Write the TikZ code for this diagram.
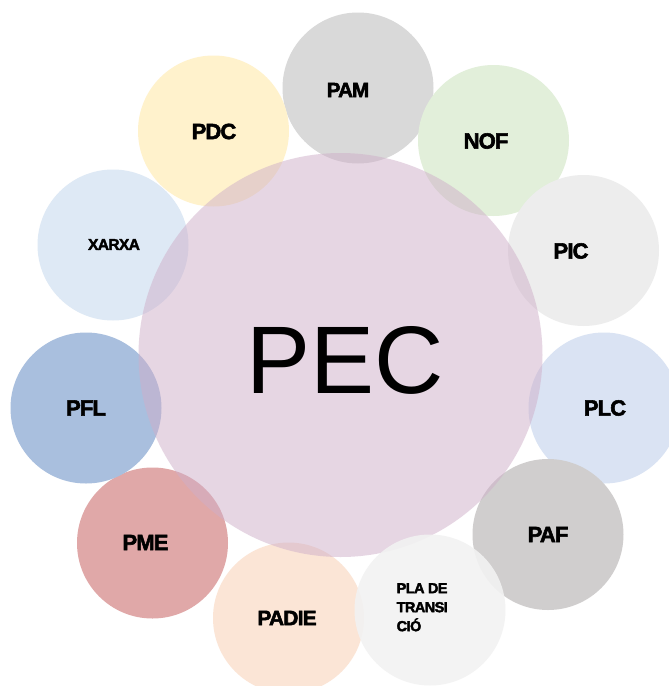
\documentclass[tikz,border=0pt]{standalone}
\usepackage{fontspec}
\setmainfont{Liberation Sans}
\newfontfamily\lblfont{Liberation Sans Bold}[FakeBold=2.5,LetterSpace=-4]
\definecolor{cPEC}{RGB}{207,175,201}
\definecolor{cPAM}{RGB}{217,217,217}
\definecolor{cNOF}{RGB}{226,239,218}
\definecolor{cPIC}{RGB}{237,237,237}
\definecolor{cPLC}{RGB}{218,227,243}
\definecolor{cPAF}{RGB}{208,206,206}
\definecolor{cPLA}{RGB}{242,242,242}
\definecolor{cPADIE}{RGB}{251,229,214}
\definecolor{cPME}{RGB}{224,168,168}
\definecolor{cPFL}{RGB}{169,191,222}
\definecolor{cXARXA}{RGB}{222,233,245}
\definecolor{cPDC}{RGB}{255,242,204}
\tikzset{
  small/.style={circle, minimum size=151pt, inner sep=0pt, draw=none},
  lbl/.style={font=\lblfont\fontsize{22}{24}\selectfont, text=black, inner sep=0pt},
  lblsm/.style={font=\lblfont\fontsize{14.5}{19}\selectfont, text=black, inner sep=0pt, align=left}
}
\begin{document}
\begin{tikzpicture}[x=1pt,y=-1pt]
\clip (0,0) rectangle (669,686);
\fill[white] (0,0) rectangle (669,686);
% small circles
\node[small, fill=cPAM]   (pam)   at (358,88) {};
\node[small, fill=cNOF]   (nof)   at (493.5,140.5) {};
\node[small, fill=cPIC]   (pic)   at (583.5,250.5) {};
\node[small, fill=cPLC]   (plc)   at (604,408) {};
\node[small, fill=cPAF]   (paf)   at (548,534.5) {};
\node[small, fill=cPADIE] (padie) at (288.5,618) {};
\node[small, fill=cPME]   (pme)   at (152.5,543) {};
\node[small, fill=cPFL]   (pfl)   at (86,408) {};
\node[small, fill=cXARXA] (xarxa) at (113,245) {};
\node[small, fill=cPDC]   (pdc)   at (213.5,131) {};
% central circle
\node[circle, minimum size=404pt, inner sep=0pt, fill=cPEC, fill opacity=0.5] (pec) at (340.5,355) {};
% PLA on top
\node[small, fill=cPLA, fill opacity=0.9] (pla) at (430,610) {};
% labels
\node[font=\fontsize{96}{100}\selectfont, inner sep=0pt] (tpec) at (345,360) {PEC};
\node[lbl, font=\lblfont\fontsize{20.5}{22}\selectfont] (tpam) at (348,90) {PAM};
\node[lbl] (tnof) at (486,141) {NOF};
\node[lbl] (tpic) at (571,251) {PIC};
\node[lbl] (tplc) at (605,408) {PLC};
\node[lbl] (tpaf) at (548,534.5) {PAF};
\node[lbl, font=\lblfont\fontsize{21}{22}\selectfont] (tpadie) at (287,618) {PADIE};
\node[lbl] (tpme) at (145.5,542.5) {PME};
\node[lbl] (tpfl) at (86,408) {PFL};
\node[lbl, font=\lblfont\fontsize{15.5}{18}\selectfont] (txarxa) at (114,244.5) {XARXA};
\node[lbl] (tpdc) at (214,131.5) {PDC};
\node[lblsm, anchor=north west] (tpla) at (396.5,583) {PLA DE\\TRANSI\\CIÓ};
\end{tikzpicture}
\end{document}
